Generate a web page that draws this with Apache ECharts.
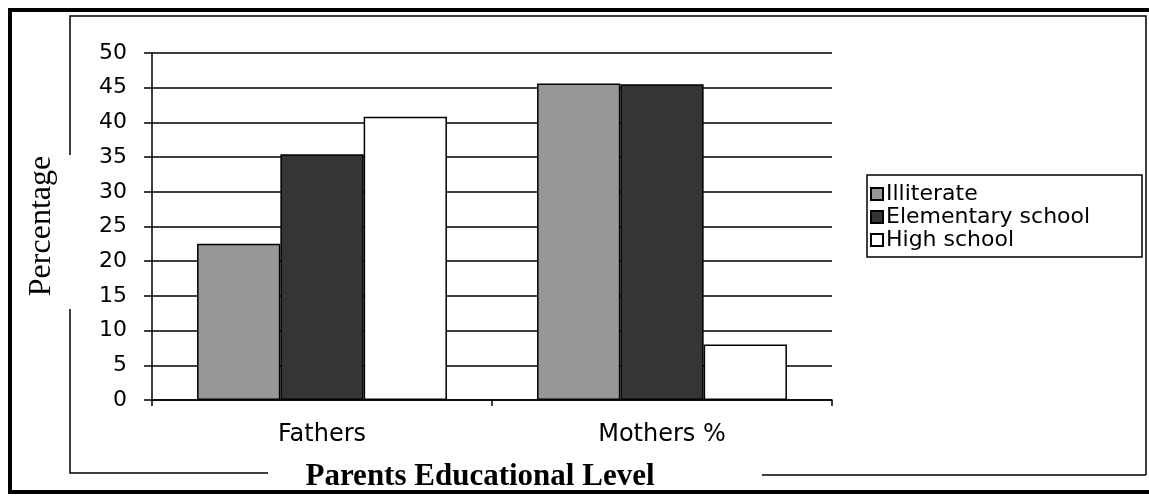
<!DOCTYPE html>
<html>
<head>
<meta charset="utf-8">
<script src="https://cdn.jsdelivr.net/npm/echarts@6/dist/echarts.min.js"></script>
<style>
html,body{margin:0;padding:0;background:#fff;}
#chart{width:1149px;height:496px;}
</style>
</head>
<body>
<div id="chart"></div>
<script>
var categories = ['Fathers', 'Mothers %'];
var seriesNames = ['Illiterate', 'Elementary school', 'High school'];
var illiterate = [22.5, 45.6];
var elementary = [35.4, 45.5];
var highSchool = [40.8, 8];
var yTicks = { min: 0, max: 50, interval: 5 };
var yAxisTitle = 'Percentage';
var xAxisTitle = 'Parents Educational Level';

var colors = ['#979797', '#353535', '#ffffff'];
var chart = echarts.init(document.getElementById('chart'));
var sansFont = 'DejaVu Sans';
var serifFont = 'Liberation Serif';

function barSeries(name, data, color) {
  return {
    name: name,
    type: 'bar',
    data: data,
    barGap: '0%',
    barCategoryGap: '26.5%',
    itemStyle: { color: color, borderColor: '#000', borderWidth: 1.5 },
    emphasis: { disabled: true }
  };
}

var option = {
  animation: false,
  backgroundColor: '#fff',
  grid: { left: 152, right: 317, top: 53, bottom: 96, containLabel: false },
  xAxis: {
    type: 'category',
    data: categories,
    axisLine: { lineStyle: { color: '#000', width: 1.5 } },
    axisTick: { show: true, length: 6, lineStyle: { color: '#000', width: 1.5 } },
    axisLabel: { color: '#000', fontFamily: sansFont, fontSize: 24, margin: 23 },
    splitLine: { show: false }
  },
  yAxis: {
    type: 'value',
    min: yTicks.min,
    max: yTicks.max,
    interval: yTicks.interval,
    axisLine: { show: true, lineStyle: { color: '#000', width: 1.5 } },
    axisTick: { show: true, length: 8, lineStyle: { color: '#000', width: 1.5 } },
    axisLabel: { color: '#000', fontFamily: sansFont, fontSize: 22, margin: 25 },
    splitLine: { show: true, lineStyle: { color: '#000', width: 1.5 } }
  },
  legend: {
    orient: 'vertical',
    left: 867,
    top: 179,
    padding: [4, 4, 4, 3],
    icon: 'rect',
    itemWidth: 12,
    itemHeight: 12,
    itemGap: 1,
    data: seriesNames,
    textStyle: { color: '#000', fontFamily: sansFont, fontSize: 22, lineHeight: 22, padding: [0, 0, 0, -2] }
  },
  graphic: [
    { type: 'rect', silent: true, z: 100, shape: { x: 10, y: 10, width: 1150, height: 482 },
      style: { fill: 'none', stroke: '#000', lineWidth: 4 } },
    { type: 'polyline', silent: true, z: 100, shape: { points: [[70, 155], [70, 16], [1146, 16], [1146, 475]] },
      style: { fill: 'none', stroke: '#000', lineWidth: 1.5 } },
    { type: 'polyline', silent: true, z: 100, shape: { points: [[70, 309], [70, 473], [268, 473]] },
      style: { fill: 'none', stroke: '#000', lineWidth: 1.5 } },
    { type: 'line', silent: true, z: 100, shape: { x1: 762, y1: 475, x2: 1146, y2: 475 },
      style: { stroke: '#000', lineWidth: 1.5 } },
    { type: 'rect', silent: true, z: 1, shape: { x: 867, y: 175, width: 275, height: 82 },
      style: { fill: '#fff', stroke: '#000', lineWidth: 1.5 } },
    { type: 'text', silent: true, z: 100, x: 42, y: 226, rotation: Math.PI / 2,
      style: { text: yAxisTitle, font: '32px "' + serifFont + '"', fill: '#000', textAlign: 'center', textVerticalAlign: 'middle' } },
    { type: 'text', silent: true, z: 101, x: 480, y: 477,
      style: { text: xAxisTitle, font: 'bold 31px "' + serifFont + '"', fill: '#000', textAlign: 'center', textVerticalAlign: 'middle' } }
  ],
  series: [
    barSeries(seriesNames[0], illiterate, colors[0]),
    barSeries(seriesNames[1], elementary, colors[1]),
    barSeries(seriesNames[2], highSchool, colors[2])
  ]
};
chart.setOption(option);
</script>
</body>
</html>
